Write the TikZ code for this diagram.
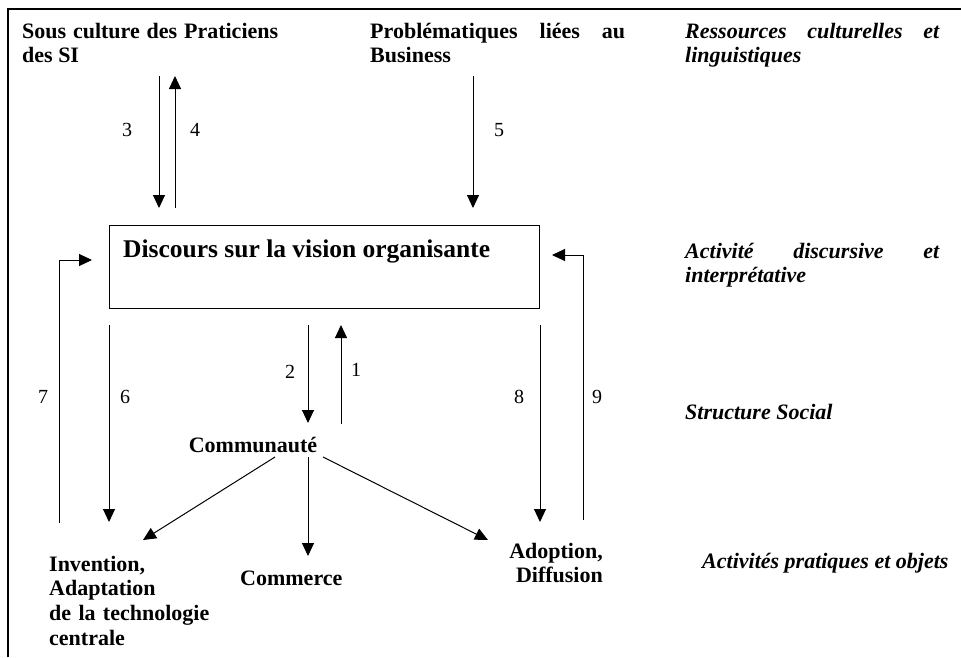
\documentclass[tikz,border=0pt]{standalone}
\usepackage{fontspec}
\setmainfont{Liberation Serif}
\usetikzlibrary{arrows.meta}
\hyphenpenalty=10000
\exhyphenpenalty=10000
\tolerance=10000
\hbadness=10000

\tikzset{
	lbl/.style={font=\fontsize{22}{24.7}\selectfont\bfseries, inner sep=0pt},
	lvl/.style={font=\fontsize{22}{24.7}\selectfont\bfseries\itshape, inner sep=0pt, anchor=base west},
	num/.style={font=\fontsize{20}{24}\selectfont, inner sep=0pt},
	arr/.style={line width=1pt, -{Triangle[length=13pt,width=12pt]}},
}

\begin{document}
\begin{tikzpicture}[x=1pt, y=-1pt]
			%%%%% START %%%%%
			\useasboundingbox (0,0) rectangle (961,657);
			\draw[line width=2pt] (8,657) -- (8,9) -- (961,9);
			
			% sources du haut
			\node[lbl, anchor=base west, text width=256pt, align=justify] (sous) at (22,38) {Sous culture des Praticiens des SI};
			\node[lbl, anchor=base west, text width=255pt, align=justify] (prob) at (370,38) {Problématiques liées au Business};
			
			% la vision organisante
			\node[draw, line width=1pt, anchor=north west, minimum width=430pt, minimum height=83pt, inner sep=0pt] (box) at (109,225) {};
			\node[font=\fontsize{25.5}{28}\selectfont\bfseries, inner sep=0pt, anchor=base west] (disc) at (123,257) {Discours sur la vision organisante};
			
			\node[lbl, anchor=base] (comm) at (253,452) {Communauté};
			
			% activites pratiques
			\node[lbl, anchor=base west, text width=175pt, align=left] (inv) at (49,571) {Invention,\\Adaptation\\de la technologie\\centrale};
			\node[lbl, anchor=base west] (commerce) at (240,585) {Commerce};
			\node[lbl, anchor=base east, text width=100pt, align=right] (adopt) at (603,558) {Adoption,\\Diffusion};
			
			% niveaux (colonne de droite)
			\node[lvl, text width=254pt, align=justify] (ress) at (685,38) {Ressources culturelles et linguistiques};
			\node[lvl, text width=254pt, align=justify] (activ) at (685,258) {Activité discursive et interprétative};
			\node[lvl] (struct) at (685,419) {Structure Social};
			\node[lvl] (prat) at (702,568) {Activités pratiques et objets};
			
			% fleches
			\coordinate (t3) at (159,76);
			\coordinate (b3) at (159,208);
			\coordinate (t4) at (175,76);
			\coordinate (b4) at (175,208);
			\coordinate (t5) at (473,76);
			\coordinate (b5) at (473,208);
			\draw[arr] (t3) -- (b3);
			\draw[arr] (b4) -- (t4);
			\draw[arr] (t5) -- (b5);
			
			\coordinate (t2) at (308,325);
			\coordinate (b2) at (308,423);
			\coordinate (t1) at (341,325);
			\coordinate (b1) at (341,424);
			\draw[arr] (t2) -- (b2);
			\draw[arr] (b1) -- (t1);
			
			\coordinate (t6) at (109,325);
			\coordinate (b6) at (109,522);
			\coordinate (b7) at (59,523);
			\coordinate (e7) at (92,260);
			\draw[arr] (t6) -- (b6);
			\draw[arr] (b7) |- (e7);
			
			\coordinate (t8) at (540,325);
			\coordinate (b8) at (540,522);
			\coordinate (b9) at (583,520);
			\coordinate (e9) at (552,255);
			\draw[arr] (t8) -- (b8);
			\draw[arr] (b9) |- (e9);
			
			\coordinate (cl) at (275,457);
			\coordinate (cm) at (308,457);
			\coordinate (cr) at (323,457);
			\coordinate (el) at (143,540);
			\coordinate (em) at (308,556);
			\coordinate (er) at (488,540);
			\draw[arr] (cl) -- (el);
			\draw[arr] (cm) -- (em);
			\draw[arr] (cr) -- (er);
			
			% numeros
			\node[num] (n3) at (127,130) {3};
			\node[num] (n4) at (195,130) {4};
			\node[num] (n5) at (499,130) {5};
			\node[num] (n2) at (290,372) {2};
			\node[num] (n1) at (356,370) {1};
			\node[num] (n7) at (43,397) {7};
			\node[num] (n6) at (125,397) {6};
			\node[num] (n8) at (519,397) {8};
			\node[num] (n9) at (597,397) {9};
			%%%%% END %%%%%
\end{tikzpicture}
\end{document}
